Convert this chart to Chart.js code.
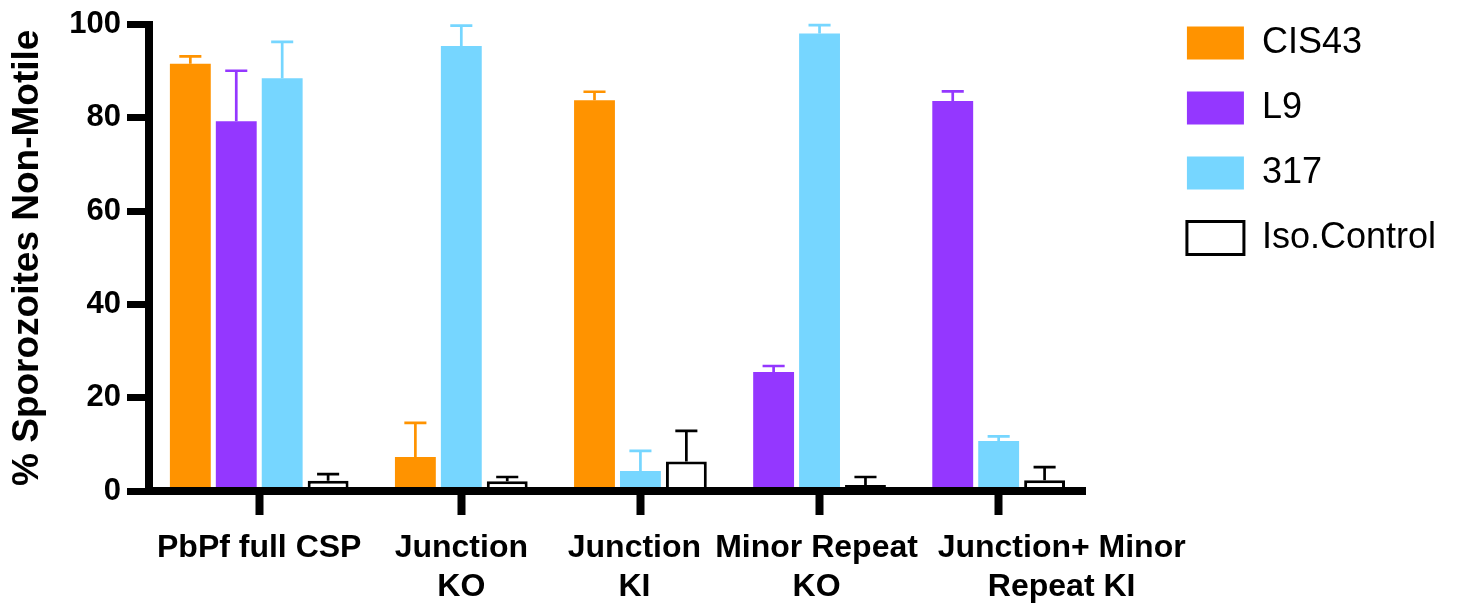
<!DOCTYPE html>
<html>
<head>
<meta charset="utf-8">
<script src="https://cdn.jsdelivr.net/npm/chart.js@4.4.1/dist/chart.umd.min.js"></script>
<style>
  html, body { margin: 0; padding: 0; background: #fff; }
  #wrap { width: 1466px; height: 603px; position: relative; }
</style>
</head>
<body>
<div id="wrap"><canvas id="myChart"></canvas></div>
<script>
// categories (x axis) and series values, null = not tested
const categories = ['PbPf full CSP', ['Junction', 'KO'], ['Junction', 'KI'], ['Minor Repeat', 'KO'], ['Junction+ Minor', 'Repeat KI']];
const seriesNames = ['CIS43', 'L9', '317', 'Iso.Control'];

const cis43 = [91.6, 7.3, 83.8, null, null];
const cis43Err = [1.6, 7.3, 1.8, null, null];
const l9 = [79.3, null, null, 25.5, 83.6];
const l9Err = [10.8, null, null, 1.3, 2.1];
const s317 = [88.5, 95.4, 4.3, 98.1, 10.7];
const s317Err = [7.8, 4.4, 4.3, 1.8, 1.0];
const iso = [2.2, 2.1, 6.3, 1.3, 2.3];
const isoErr = [1.4, 0.9, 6.6, 1.7, 2.8];

const yTicks = [0, 20, 40, 60, 80, 100];

// GraphPad-like layout: missing bars are dropped and the rest close up,
// groups separated by roughly one bar slot
const GROUP_GAP = 0.9;
const EDGE = 0.9;
// small horizontal nudges of the category labels (px), last one moved right as in the figure
const LABEL_SHIFT = [0, 0, -6, -3, 63];

const values = [cis43, l9, s317, iso];
const errors = [cis43Err, l9Err, s317Err, isoErr];
const fills = ['#FF9300', '#9437FF', '#76D6FF', '#FFFFFF'];
const strokes = ['#FF9300', '#9437FF', '#76D6FF', '#000000'];

const points = values.map(() => []);
const errs = values.map(() => []);
const groupCenters = [];
let cursor = 0;
categories.forEach((c, g) => {
    let n = 0;
    values.forEach((vals, s) => {
        if (vals[g] !== null) {
            points[s].push({ x: cursor + n, y: vals[g] });
            errs[s].push(errors[s][g]);
            n++;
        }
    });
    groupCenters.push(cursor + (n - 1) / 2);
    cursor += n + GROUP_GAP;
});
const lastSlot = cursor - GROUP_GAP - 1;

const datasets = seriesNames.map((name, s) => ({
    label: name,
    data: points[s],
    errors: errs[s],
    errorColor: strokes[s],
    backgroundColor: fills[s],
    borderColor: strokes[s],
    borderWidth: s === 3 ? 3 : 0,
    grouped: false,
    categoryPercentage: 1,
    barPercentage: 0.89
}));

// upper error bars (mean + SD)
const errorBars = {
    id: 'errorBars',
    afterDatasetsDraw(chart) {
        const ctx = chart.ctx;
        const y = chart.scales.y;
        chart.data.datasets.forEach((ds, i) => {
            const meta = chart.getDatasetMeta(i);
            meta.data.forEach((bar, j) => {
                const top = y.getPixelForValue(ds.data[j].y + ds.errors[j]);
                const cap = bar.width * 0.27;
                ctx.save();
                ctx.strokeStyle = ds.errorColor;
                ctx.lineWidth = 2.7;
                ctx.beginPath();
                ctx.moveTo(bar.x, bar.y);
                ctx.lineTo(bar.x, top);
                ctx.moveTo(bar.x - cap, top);
                ctx.lineTo(bar.x + cap, top);
                ctx.stroke();
                ctx.restore();
            });
        });
    }
};

// push the legend away from the axis end like in the figure
const legendOffset = {
    id: 'legendOffset',
    afterLayout(chart) {
        const lg = chart.legend;
        lg.left += 72; lg.right += 72;
        lg.top -= 27; lg.bottom -= 27;
    }
};

// move category labels off their tick where the figure does
const labelNudge = {
    id: 'labelNudge',
    beforeDraw(chart) {
        const x = chart.scales.x;
        x.getLabelItems().forEach((item, i) => {
            item.options.translation[0] = x.getPixelForTick(i) + LABEL_SHIFT[i];
        });
    }
};

Chart.defaults.font.family = "'Liberation Sans', Arial, sans-serif";
Chart.defaults.color = '#000';

const ctx = document.getElementById('myChart').getContext('2d');
const chart = new Chart(ctx, {
    type: 'bar',
    data: { datasets: datasets },
    plugins: [errorBars, legendOffset, labelNudge],
    options: {
        responsive: true,
        maintainAspectRatio: false,
        animation: false,
        layout: { padding: { top: 23, left: 4, right: 92, bottom: 0 } },
        plugins: {
            tooltip: { enabled: false },
            legend: {
                position: 'right',
                align: 'start',
                labels: {
                    boxWidth: 57,
                    boxHeight: 33,
                    padding: 29,
                    color: '#000',
                    font: { size: 36 }
                }
            }
        },
        scales: {
            x: {
                type: 'linear',
                offset: false,
                min: -EDGE,
                max: lastSlot + EDGE,
                afterFit(scale) { scale.height = 112; },
                afterBuildTicks(scale) {
                    scale.ticks = groupCenters.map(v => ({ value: v }));
                },
                ticks: {
                    autoSkip: false,
                    maxRotation: 0,
                    padding: 14,
                    color: '#000',
                    font: { size: 32, weight: 'bold', lineHeight: 1.22 },
                    callback: (value, index) => categories[index]
                },
                grid: {
                    offset: false,
                    drawOnChartArea: false,
                    drawTicks: true,
                    tickLength: 24,
                    tickWidth: 8,
                    tickColor: '#000'
                },
                border: { display: true, color: '#000', width: 8, z: 1 }
            },
            y: {
                min: 0,
                max: 100,
                afterFit(scale) { scale.width = 145; },
                afterBuildTicks(scale) {
                    scale.ticks = yTicks.map(v => ({ value: v }));
                },
                ticks: {
                    padding: 6,
                    color: '#000',
                    font: { size: 31, weight: 'bold' }
                },
                grid: {
                    drawOnChartArea: false,
                    drawTicks: true,
                    tickLength: 22,
                    tickWidth: 7,
                    tickColor: '#000'
                },
                border: { display: true, color: '#000', width: 8, z: 1 },
                title: {
                    display: true,
                    text: '% Sporozoites Non-Motile',
                    color: '#000',
                    font: { size: 37, weight: 'bold' },
                    padding: { top: 2, bottom: 0 }
                }
            }
        }
    }
});
</script>
</body>
</html>
